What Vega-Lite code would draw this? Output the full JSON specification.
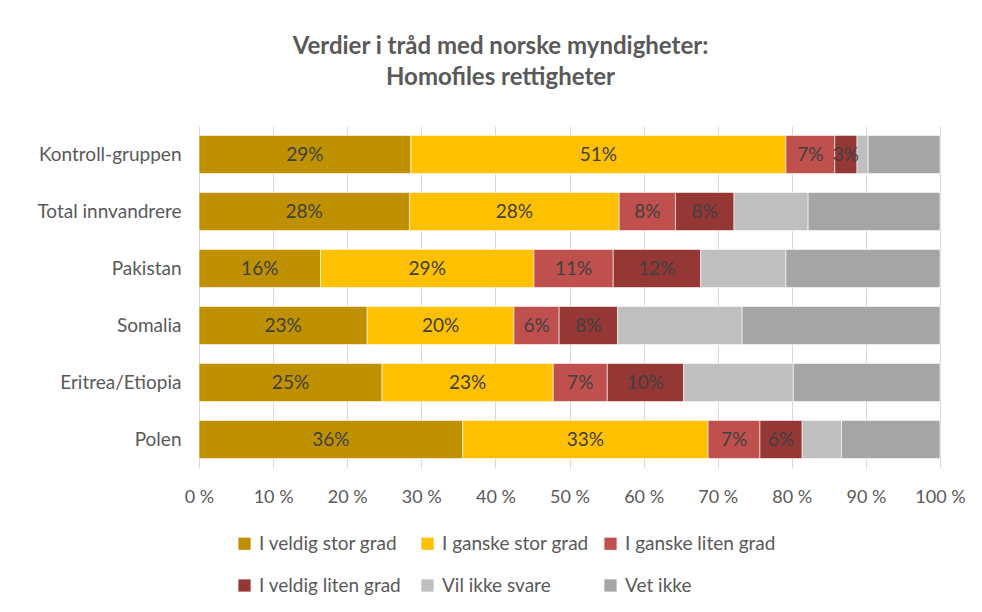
{
  "$schema": "https://vega.github.io/schema/vega-lite/v6.json",
  "width": 741,
  "height": 342,
  "autosize": {"type": "none"},
  "padding": {"left": 199, "top": 126, "right": 42, "bottom": 144},
  "background": "white",
  "title": {
    "text": ["Verdier i tråd med norske myndigheter:", "Homofiles rettigheter"],
    "font": "Lato",
    "fontSize": 24,
    "fontWeight": "bold",
    "color": "#595959",
    "anchor": "middle",
    "dx": -69,
    "offset": 36,
    "lineHeight": 31
  },
  "data": {
    "values": [
      {"gruppe": "Kontroll-gruppen", "svar": "I veldig stor grad", "verdi": 28.6},
      {"gruppe": "Kontroll-gruppen", "svar": "I ganske stor grad", "verdi": 50.6},
      {"gruppe": "Kontroll-gruppen", "svar": "I ganske liten grad", "verdi": 6.6},
      {"gruppe": "Kontroll-gruppen", "svar": "I veldig liten grad", "verdi": 3.0},
      {"gruppe": "Kontroll-gruppen", "svar": "Vil ikke svare", "verdi": 1.5},
      {"gruppe": "Kontroll-gruppen", "svar": "Vet ikke", "verdi": 9.7},
      {"gruppe": "Total innvandrere", "svar": "I veldig stor grad", "verdi": 28.4},
      {"gruppe": "Total innvandrere", "svar": "I ganske stor grad", "verdi": 28.3},
      {"gruppe": "Total innvandrere", "svar": "I ganske liten grad", "verdi": 7.6},
      {"gruppe": "Total innvandrere", "svar": "I veldig liten grad", "verdi": 7.9},
      {"gruppe": "Total innvandrere", "svar": "Vil ikke svare", "verdi": 10.0},
      {"gruppe": "Total innvandrere", "svar": "Vet ikke", "verdi": 17.8},
      {"gruppe": "Pakistan", "svar": "I veldig stor grad", "verdi": 16.4},
      {"gruppe": "Pakistan", "svar": "I ganske stor grad", "verdi": 28.8},
      {"gruppe": "Pakistan", "svar": "I ganske liten grad", "verdi": 10.7},
      {"gruppe": "Pakistan", "svar": "I veldig liten grad", "verdi": 11.8},
      {"gruppe": "Pakistan", "svar": "Vil ikke svare", "verdi": 11.5},
      {"gruppe": "Pakistan", "svar": "Vet ikke", "verdi": 20.8},
      {"gruppe": "Somalia", "svar": "I veldig stor grad", "verdi": 22.7},
      {"gruppe": "Somalia", "svar": "I ganske stor grad", "verdi": 19.8},
      {"gruppe": "Somalia", "svar": "I ganske liten grad", "verdi": 6.1},
      {"gruppe": "Somalia", "svar": "I veldig liten grad", "verdi": 7.9},
      {"gruppe": "Somalia", "svar": "Vil ikke svare", "verdi": 16.8},
      {"gruppe": "Somalia", "svar": "Vet ikke", "verdi": 26.7},
      {"gruppe": "Eritrea/Etiopia", "svar": "I veldig stor grad", "verdi": 24.7},
      {"gruppe": "Eritrea/Etiopia", "svar": "I ganske stor grad", "verdi": 23.1},
      {"gruppe": "Eritrea/Etiopia", "svar": "I ganske liten grad", "verdi": 7.3},
      {"gruppe": "Eritrea/Etiopia", "svar": "I veldig liten grad", "verdi": 10.3},
      {"gruppe": "Eritrea/Etiopia", "svar": "Vil ikke svare", "verdi": 14.8},
      {"gruppe": "Eritrea/Etiopia", "svar": "Vet ikke", "verdi": 19.8},
      {"gruppe": "Polen", "svar": "I veldig stor grad", "verdi": 35.6},
      {"gruppe": "Polen", "svar": "I ganske stor grad", "verdi": 33.1},
      {"gruppe": "Polen", "svar": "I ganske liten grad", "verdi": 7.0},
      {"gruppe": "Polen", "svar": "I veldig liten grad", "verdi": 5.7},
      {"gruppe": "Polen", "svar": "Vil ikke svare", "verdi": 5.3},
      {"gruppe": "Polen", "svar": "Vet ikke", "verdi": 13.3}
    ]
  },
  "transform": [
    {"calculate": "indexof(['I veldig stor grad','I ganske stor grad','I ganske liten grad','I veldig liten grad','Vil ikke svare','Vet ikke'], datum.svar)", "as": "ord"},
    {"stack": "verdi", "groupby": ["gruppe"], "sort": [{"field": "ord", "order": "ascending"}], "as": ["x0", "x1"]},
    {"calculate": "(datum.x0 + datum.x1) / 2", "as": "xm"},
    {"calculate": "format(datum.verdi, '.0f') + '%'", "as": "etikett"}
  ],
  "config": {
    "font": "Lato",
    "view": {"stroke": null},
    "axis": {"labelFont": "Lato", "labelFontSize": 19, "labelColor": "#595959", "domain": false, "ticks": false}
  },
  "layer": [
    {
      "mark": {"type": "bar", "stroke": "white", "strokeWidth": 0.6},
      "encoding": {
        "y": {
          "field": "gruppe", "type": "nominal",
          "sort": ["Kontroll-gruppen", "Total innvandrere", "Pakistan", "Somalia", "Eritrea/Etiopia", "Polen"],
          "scale": {"paddingInner": 0.33, "paddingOuter": 0.165},
          "axis": {"title": null, "labelPadding": 18, "grid": false}
        },
        "x": {
          "field": "x0", "type": "quantitative",
          "scale": {"domain": [0, 100], "nice": false},
          "axis": {"title": null, "values": [0,10,20,30,40,50,60,70,80,90,100], "labelExpr": "datum.value + ' %'", "labelFontSize": 18, "labelOverlap": false, "labelFlush": false, "labelBound": false, "gridColor": "#D9D9D9", "gridWidth": 1, "labelPadding": 20}
        },
        "x2": {"field": "x1"},
        "color": {
          "field": "svar", "type": "nominal",
          "scale": {
            "domain": ["I veldig stor grad", "I ganske stor grad", "I ganske liten grad", "I veldig liten grad", "Vil ikke svare", "Vet ikke"],
            "range": ["#BF9000", "#FFC000", "#C0504D", "#953735", "#BFBFBF", "#A5A5A5"]
          },
          "legend": {
            "title": null,
            "orient": "none",
            "legendX": 36,
            "legendY": 408,
            "direction": "horizontal",
            "columns": 3,
            "gridAlign": "all",
            "symbolType": "square",
            "symbolSize": 150,
            "symbolStrokeWidth": 0,
            "labelFont": "Lato",
            "labelFontSize": 19,
            "labelColor": "#595959",
            "labelLimit": 300,
            "columnPadding": 8,
            "rowPadding": 22,
            "labelOffset": 5
          }
        }
      }
    },
    {
      "transform": [{"filter": "datum.ord < 4"}],
      "mark": {"type": "text", "fontSize": 19, "color": "#404040", "font": "Lato"},
      "encoding": {
        "y": {"field": "gruppe", "type": "nominal", "sort": ["Kontroll-gruppen", "Total innvandrere", "Pakistan", "Somalia", "Eritrea/Etiopia", "Polen"]},
        "x": {"field": "xm", "type": "quantitative"},
        "text": {"field": "etikett", "type": "nominal"}
      }
    }
  ]
}
